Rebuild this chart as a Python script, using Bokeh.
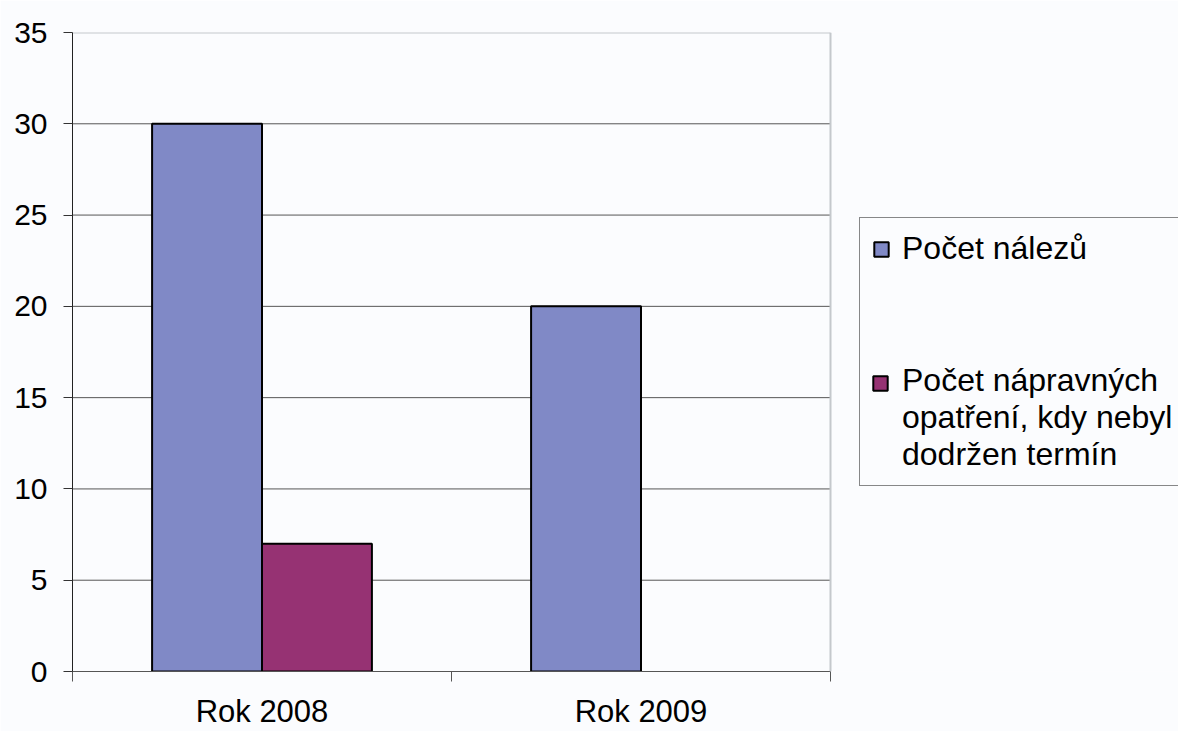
from bokeh.plotting import figure
from bokeh.models import (ColumnDataSource, FixedTicker, Legend, LegendItem, Range1d, Span)
from bokeh.transform import dodge
from bokeh.embed import file_html
from bokeh.resources import INLINE

# ---- data ----
categories = ["Rok 2008", "Rok 2009"]
series_names = ["Počet nálezů", "Počet nápravných\nopatření, kdy nebyl\ndodržen termín"]
nalezy = [30, 20]
napravna = [7, 0]
y_ticks = [0, 5, 10, 15, 20, 25, 30, 35]
colors = ["#8089C6", "#963273"]

FONT = "Liberation Sans"
BG = "#FBFCFE"
W, H = 1178, 731
LEFT, TOP, PLOT_W, BOTTOM = 72, 32, 758, 60

n = len(categories)
xs = [i + 0.5 for i in range(n)]
src = ColumnDataSource(dict(
    x=xs,
    a=nalezy,
    b=napravna,
    la=[1.0 if v > 0 else 0.0 for v in nalezy],
    lb=[1.0 if v > 0 else 0.0 for v in napravna],
))

# the frame extends to the right edge so the legend can sit inside it
x_end = n * (W - LEFT) / PLOT_W
p = figure(width=W, height=H, output_backend="svg", toolbar_location=None,
           x_range=Range1d(0, x_end), y_range=Range1d(y_ticks[0], y_ticks[-1]),
           min_border_left=LEFT, min_border_top=TOP, min_border_right=0,
           min_border_bottom=BOTTOM, background_fill_color=BG,
           border_fill_color=BG, outline_line_color=None)

# grid lines (limited to the plot area) and plot-area border
grid_y = y_ticks[1:-1]
p.segment(x0=[0] * len(grid_y), x1=[n] * len(grid_y), y0=grid_y, y1=grid_y,
          line_color="#555555", line_width=1)
p.segment(x0=[0], x1=[n], y0=[y_ticks[-1]], y1=[y_ticks[-1]],
          line_color="#C4C8CC", line_width=2)
p.add_layout(Span(location=n, dimension="height", line_color="#C4C8CC", line_width=2))

bw = 0.29
r1 = p.vbar(x=dodge("x", -bw / 2, range=p.x_range), top="a", width=bw, source=src,
            fill_color=colors[0], line_color="black", line_width=2, line_alpha="la")
r2 = p.vbar(x=dodge("x", bw / 2, range=p.x_range), top="b", width=bw, source=src,
            fill_color=colors[1], line_color="black", line_width=2, line_alpha="lb")
r_blank = p.vbar(x=[], top=[], width=0.1, fill_alpha=0, line_alpha=0)

# axes
p.xaxis.bounds = (0, n)
p.xaxis.ticker = FixedTicker(ticks=xs, minor_ticks=list(range(n + 1)))
p.xaxis.major_label_overrides = {x: c for x, c in zip(xs, categories)}
p.xaxis.major_tick_out = 0
p.xaxis.major_tick_in = 0
p.xaxis.minor_tick_out = 10
p.xaxis.minor_tick_in = 0
p.xaxis.minor_tick_line_color = "#555555"
p.xaxis.axis_line_color = "#555555"
p.xaxis.axis_line_width = 1
p.xaxis.major_label_standoff = 12
p.xaxis.major_label_text_font = FONT
p.xaxis.major_label_text_font_size = "31px"
p.xaxis.major_label_text_color = "black"

p.yaxis.ticker = FixedTicker(ticks=y_ticks)
p.yaxis.minor_tick_line_color = None
p.yaxis.major_tick_out = 9
p.yaxis.major_tick_in = 0
p.yaxis.major_tick_line_color = "#333333"
p.yaxis.axis_line_color = "#222222"
p.yaxis.major_label_standoff = 16
p.yaxis.major_label_text_font = FONT
p.yaxis.major_label_text_font_size = "30px"
p.yaxis.major_label_text_color = "black"

p.xgrid.grid_line_color = None
p.ygrid.grid_line_color = None

# legend box with both texts (second entry's swatch drawn by a separate legend,
# so that it lines up with the first line of the wrapped text)
legend = Legend(items=[LegendItem(label=series_names[0], renderers=[r1]),
                       LegendItem(label=series_names[1], renderers=[r_blank])],
                location=(787, 185), orientation="vertical",
                label_text_font=FONT, label_text_font_size="32px",
                label_text_line_height=1.15, label_text_color="black",
                glyph_width=18, glyph_height=18, label_standoff=12,
                padding=12, spacing=95, margin=0,
                border_line_color="#111111", border_line_width=1,
                background_fill_color=BG, background_fill_alpha=1.0)
p.add_layout(legend, "center")

swatch = Legend(items=[LegendItem(label=" ", renderers=[r2])],
                location=(799, 279), orientation="vertical",
                label_text_font=FONT, label_text_font_size="32px",
                label_text_line_height=1.15,
                glyph_width=18, glyph_height=18, label_standoff=0,
                padding=0, spacing=0, margin=0,
                border_line_color=None, background_fill_alpha=0.0)
p.add_layout(swatch, "center")

open("out.html", "w").write(file_html(p, INLINE))
